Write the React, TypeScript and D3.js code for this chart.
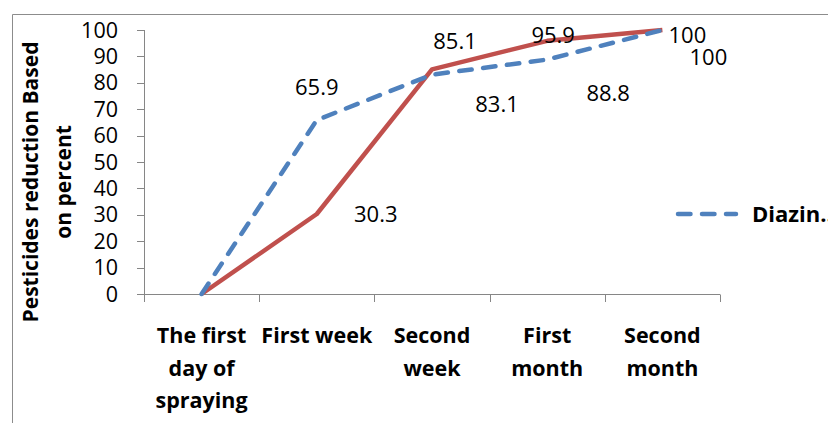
import React from "react";
import * as d3 from "d3";

const categories: string[][] = [
  ["The first", "day of", "spraying"],
  ["First week"],
  ["Second", "week"],
  ["First", "month"],
  ["Second", "month"],
];
const blueValues = [0, 65.9, 83.1, 88.8, 100];
const redValues = [0, 30.3, 85.1, 95.9, 100];
const yTicks = [0, 10, 20, 30, 40, 50, 60, 70, 80, 90, 100];
const legendLabel = "Diazin..";
const yTitle = ["Pesticides reduction Based", "on percent"];

// label offsets (style): [dx, dy] relative to point, null = no label
const blueLabelOffsets: ([number, number] | null)[] = [null, [0, -25], [65, 37], [61, 41], [46, 35]];
const redLabelOffsets: ([number, number] | null)[] = [null, [59, 8], [23, -20], [6, 2], [25, 13]];

const W = 828;
const H = 423;
const BLUE = "#4F81BD";
const RED = "#C0504D";
const AXIS = "#868686";
const FONT = "'Open Sans', 'DejaVu Sans', sans-serif";

export default function App() {
  const x = d3.scaleBand<number>().domain(d3.range(categories.length)).range([144, 720]).padding(0);
  const y = d3.scaleLinear().domain([0, 100]).range([294, 30]);
  const cx = (i: number) => (x(i) as number) + x.bandwidth() / 2;
  const line = d3
    .line<number>()
    .x((_, i) => cx(i))
    .y((d) => y(d));

  return (
    <svg width={W} height={H} style={{ position: "absolute", left: 0, top: 0, background: "#fff" }}>
      {/* outer border */}
      <path d={`M12.5,${H} V14.5 H${W}`} fill="none" stroke="#8c8c8c" strokeWidth={1} />
      {/* y axis */}
      <line x1={144.5} x2={144.5} y1={y(100)} y2={y(0)} stroke={AXIS} strokeWidth={1} />
      {yTicks.map((t) => (
        <g key={t}>
          <line x1={137} x2={144.5} y1={Math.round(y(t)) + 0.5} y2={Math.round(y(t)) + 0.5} stroke={AXIS} />
          <text x={118} y={y(t) + 7.5} textAnchor="end" fontFamily={FONT} fontSize={21.5} fill="#000">
            {t}
          </text>
        </g>
      ))}
      {/* x axis */}
      <line x1={137} x2={720} y1={294.5} y2={294.5} stroke={AXIS} />
      {d3.range(categories.length + 1).map((i) => {
        const xx = i < categories.length ? (x(i) as number) : 720;
        return <line key={i} x1={Math.round(xx) + 0.5} x2={Math.round(xx) + 0.5} y1={294.5} y2={302} stroke={AXIS} />;
      })}
      {categories.map((lines, i) => (
        <text key={i} textAnchor="middle" fontFamily={FONT} fontSize={21.5} fontWeight="bold" fill="#000">
          {lines.map((l, j) => (
            <tspan key={j} x={cx(i)} y={343 + j * 32.5}>
              {l}
            </tspan>
          ))}
        </text>
      ))}
      {/* y title */}
      <g transform="translate(0,182) rotate(-90)">
        {yTitle.map((t, j) => (
          <text key={j} x={0} y={38 + j * 33} textAnchor="middle" fontFamily={FONT} fontSize={21} fontWeight="bold" fill="#000">
            {t}
          </text>
        ))}
      </g>
      {/* lines */}
      <path d={line(redValues) || ""} fill="none" stroke={RED} strokeWidth={4.5} strokeLinejoin="round" />
      <path
        d={line(blueValues) || ""}
        fill="none"
        stroke={BLUE}
        strokeWidth={4.5}
        strokeDasharray="12.5 11.5"
        strokeLinecap="round"
        strokeLinejoin="round"
      />
      {/* data labels */}
      {blueValues.map((v, i) => {
        const o = blueLabelOffsets[i];
        if (!o) return null;
        return (
          <text key={"b" + i} x={cx(i) + o[0]} y={y(v) + o[1]} textAnchor="middle" fontFamily={FONT} fontSize={22} fill="#000">
            {v}
          </text>
        );
      })}
      {redValues.map((v, i) => {
        const o = redLabelOffsets[i];
        if (!o) return null;
        return (
          <text key={"r" + i} x={cx(i) + o[0]} y={y(v) + o[1]} textAnchor="middle" fontFamily={FONT} fontSize={22} fill="#000">
            {v}
          </text>
        );
      })}
      {/* legend */}
      <line x1={678} x2={736} y1={214} y2={214} stroke={BLUE} strokeWidth={4.5} strokeDasharray="12.5 11.5" strokeLinecap="round" />
      <text x={752} y={222} fontFamily={FONT} fontSize={22} fontWeight="bold" fill="#000">
        {legendLabel}
      </text>
    </svg>
  );
}
